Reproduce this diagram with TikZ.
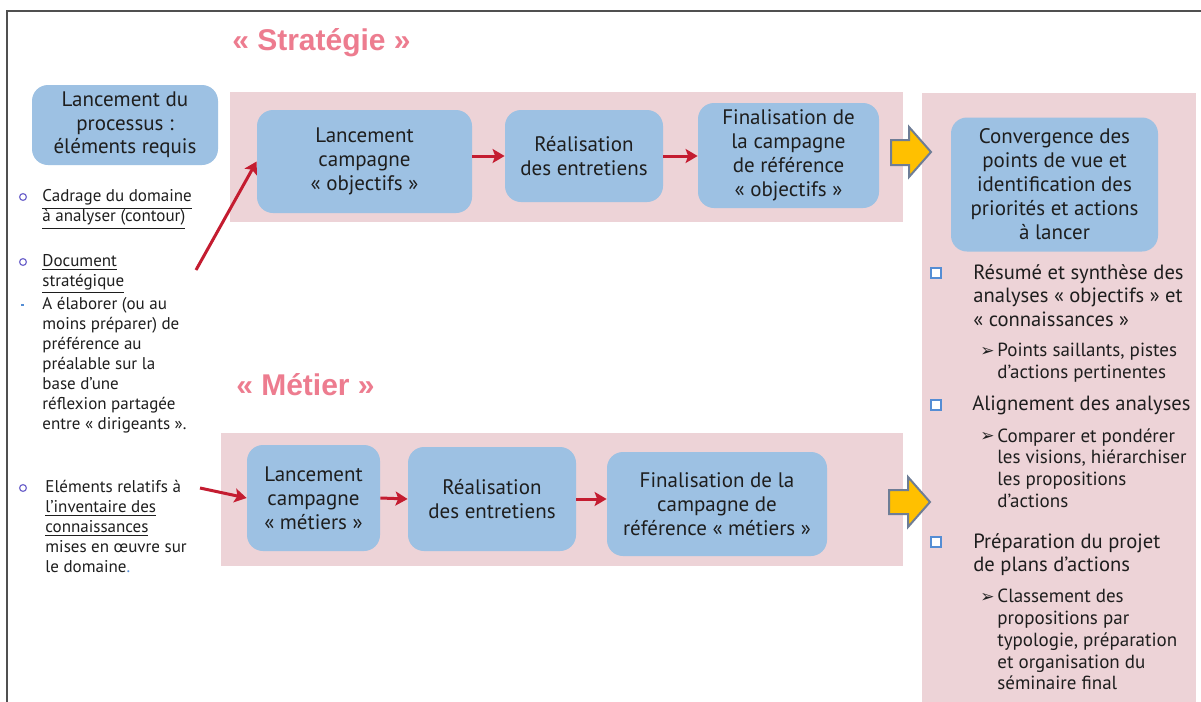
\documentclass[tikz,border=0pt]{standalone}
\usepackage{fontspec}
\setmainfont{PT Sans}
\newfontfamily\titlefont{Liberation Sans}
\newfontfamily\symfont{DejaVu Sans}
\usetikzlibrary{arrows.meta}
\definecolor{boxblue}{RGB}{157,193,227}
\definecolor{bandpink}{RGB}{237,211,215}
\definecolor{arrowred}{RGB}{196,28,48}
\definecolor{titlepink}{RGB}{237,124,143}
\definecolor{txt}{RGB}{30,30,30}
\definecolor{bulletpurple}{RGB}{112,102,204}
\definecolor{sqblue}{RGB}{84,141,212}
\definecolor{yellowfill}{RGB}{255,192,0}
\definecolor{yellowedge}{RGB}{110,125,150}
\definecolor{framegray}{RGB}{80,80,80}
\begin{document}
\begin{tikzpicture}[x=0.5pt,y=-0.5pt,
  box/.style={fill=boxblue, rounded corners=8pt, align=center, inner sep=0pt, text=txt, font=\fontsize{10.5}{12}\selectfont},
  band/.style={fill=bandpink},
  flow/.style={draw=arrowred, line width=1.5pt, -{Stealth[length=6pt,width=7pt,inset=1.3pt]}},
  titletxt/.style={font=\titlefont\bfseries\fontsize{15}{18}\selectfont, text=titlepink, anchor=base, inner sep=0pt},
  lefttxt/.style={anchor=north west, align=left, inner sep=0pt, text=txt, font=\fontsize{8.5}{10}\selectfont},
  maintxt/.style={anchor=north west, align=left, inner sep=0pt, text=txt, font=\fontsize{10.3}{11.8}\selectfont},
  subtxt/.style={anchor=north west, align=left, inner sep=0pt, text=txt, font=\fontsize{9.5}{10.85}\selectfont},
  ringbullet/.style={circle, draw=bulletpurple, line width=0.6pt, minimum size=3.4pt, inner sep=0pt},
  sqbullet/.style={rectangle, draw=sqblue, line width=0.9pt, minimum size=5.2pt, inner sep=0pt, fill=white},
  arrbullet/.style={anchor=west, inner sep=0pt, text=txt, font=\symfont\fontsize{8.5}{9}\selectfont},
  blockarrow/.style={fill=yellowfill, draw=yellowedge, line width=1pt, line join=miter}
]
\useasboundingbox (0,0) rectangle (1201,702);
\fill[white] (0,0) rectangle (1201,702);

% frame
\draw[framegray, line width=1pt] (7,702) -- (7,11) -- (1201,11);

% bands
\fill[band] (230,92) rectangle (903,222);
\fill[band] (221,433) rectangle (903,566);
\fill[band] (922,93) rectangle (1196,702);

% titles
\node[titletxt] (tstrat) at (321.5,50) {« Stratégie »};
\node[titletxt] (tmetier) at (305.5,395) {« Métier »};

% boxes
\node[box, minimum width=93pt, minimum height=40pt, font=\fontsize{10.5}{11.75}\selectfont] (L0) at (125,125) {Lancement du\\processus :\\éléments requis};
\node[box, minimum width=107.5pt, minimum height=51.5pt] (B1) at (364.5,161.5) {Lancement\\campagne\\« objectifs »};
\node[box, minimum width=79pt, minimum height=46pt] (B2) at (584,156) {Réalisation\\des entretiens};
\node[box, minimum width=90.5pt, minimum height=52.5pt] (B3) at (788.5,155.5) {Finalisation de\\la campagne\\de référence\\« objectifs »};
\node[box, minimum width=103.5pt, minimum height=67pt] (CV) at (1054.5,184.5) {Convergence des\\points de vue et\\identification des\\priorités et actions\\à lancer};
\node[box, minimum width=66.5pt, minimum height=53pt] (M1) at (313.5,498) {Lancement\\campagne\\« métiers »};
\node[box, minimum width=84pt, minimum height=52pt] (M2) at (492,499) {Réalisation\\des entretiens};
\node[box, minimum width=110pt, minimum height=52pt] (M3) at (717,504) {Finalisation de la\\campagne de\\référence « métiers »};

% block arrows
\path[blockarrow] (891,140) -- (909,140) -- (909,127) -- (931,152) -- (909,177) -- (909,165) -- (891,165) -- cycle;
\path[blockarrow] (889,490) -- (908,490) -- (908,477) -- (930,502) -- (908,527) -- (908,514) -- (889,514) -- cycle;

% left list
\node[ringbullet] (b1) at (23,197) {};
\node[lefttxt] (T1) at (42,189) {\underline{Cadrage du domaine}\\\underline{à analyser (contour)}};
\node[ringbullet] (b2) at (23,262) {};
\node[lefttxt] (T2) at (42,254) {\underline{Document}\\\underline{stratégique}};
\node[fill=sqblue, minimum width=1.5pt, minimum height=1.2pt, inner sep=0pt] (b3) at (22,305) {};
\node[lefttxt] (T3) at (42,297) {A élaborer (ou au\\moins préparer) de\\préférence au\\préalable sur la\\base d’une\\réflexion partagée\\entre « dirigeants ».};
\node[ringbullet] (b4) at (23,488) {};
\node[lefttxt] (T4) at (45,480) {Eléments relatifs à\\\underline{l’inventaire des}\\\underline{connaissances}\\mises en œuvre sur\\le domaine\textcolor{sqblue}{.}};

\coordinate (s1) at (196,270);
\coordinate (s2) at (200,488);

% connectors
\draw[flow] (s1) -- (B1.west);
\draw[flow] (B2.west -| B1.east) -- (B2.west);
\draw[flow] (B2.east) -- (B2.east -| B3.west);
\draw[flow] (s2) -- (M1.west);
\draw[flow] (M1.east) -- (M2.west);
\draw[flow] (M2.east) -- (M2.east -| M3.west);

% right list
\node[sqbullet] (q1) at (936,273) {};
\node[maintxt] (R1) at (973,264) {Résumé et synthèse des\\analyses « objectifs » et\\« connaissances »};
\node[arrbullet] (a1) at (980,352) {➢};
\node[subtxt] (R1s) at (997,343) {Points saillants, pistes\\d’actions pertinentes};
\node[sqbullet] (q2) at (936,405) {};
\node[maintxt] (R2) at (972,395) {Alignement des analyses};
\node[arrbullet] (a2) at (980,437) {➢};
\node[subtxt] (R2s) at (997,428) {Comparer et pondérer\\les visions, hiérarchiser\\les propositions\\d’actions};
\node[sqbullet] (q3) at (936,542) {};
\node[maintxt] (R3) at (973,533) {Préparation du projet\\de plans d’actions};
\node[arrbullet] (a3) at (980,598) {➢};
\node[subtxt] (R3s) at (997,589) {Classement des\\propositions par\\typologie, préparation\\et organisation du\\séminaire final};
\end{tikzpicture}
\end{document}
